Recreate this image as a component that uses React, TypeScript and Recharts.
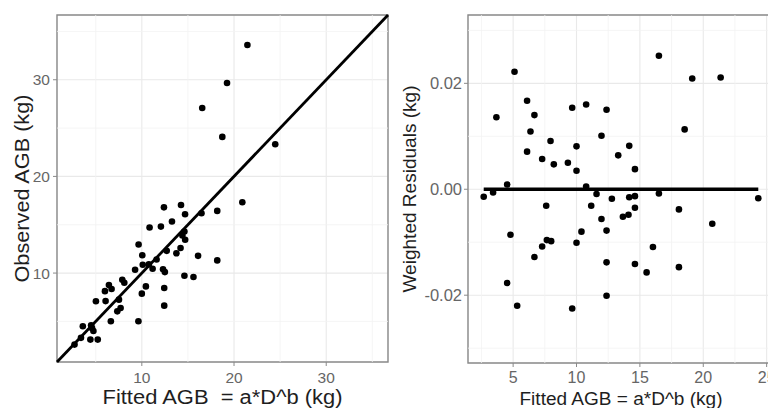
import React from 'react';
import {
  ScatterChart,
  Scatter,
  XAxis,
  YAxis,
  CartesianGrid,
  ReferenceLine,
  ReferenceArea,
} from 'recharts';

// Left panel: fitted vs observed AGB (kg)
const fittedAGB = [
  2.7, 3.4, 3.6, 4.5, 4.6, 4.75, 4.42, 5.22, 5.02, 6.07, 6.0, 6.43, 6.72, 6.64, 7.52, 7.34, 7.7, 7.88, 8.1,
  9.27, 9.65, 9.63, 10.05, 10.1, 10.44, 10.0, 10.76, 10.84, 11.17, 11.6, 12.07, 12.3, 12.5, 12.4, 12.43,
  12.43, 12.7, 13.27, 13.75, 14.2, 14.25, 14.4, 14.62, 14.7, 14.69, 14.62, 15.6, 16.1, 16.47, 16.55, 18.18,
  18.18, 18.73, 19.24, 20.9, 21.45, 24.47,
];
const observedAGB = [
  2.6, 3.3, 4.5, 4.6, 4.3, 4.0, 3.12, 3.12, 7.08, 7.1, 8.13, 8.76, 8.35, 5.01, 7.25, 6.04, 6.39, 9.31, 9.0,
  10.34, 12.95, 5.01, 11.85, 10.86, 8.62, 7.87, 10.9, 14.71, 10.45, 11.4, 14.81, 10.4, 10.1, 16.8, 8.45,
  6.63, 12.3, 15.33, 12.05, 12.6, 17.04, 13.9, 14.3, 13.45, 16.08, 9.72, 9.59, 11.78, 16.19, 27.08, 16.43,
  11.31, 24.09, 29.66, 17.32, 33.6, 23.33,
];

// Right panel: fitted AGB vs weighted residuals
const residFitted = [
  2.68, 3.42, 3.68, 4.53, 4.79, 4.53, 5.11, 5.32, 6.1, 6.1, 6.37, 6.68, 6.68, 7.29, 7.29, 7.61, 7.66, 8.0,
  7.95, 8.21, 9.32, 9.66, 9.66, 10.0, 10.0, 10.0, 10.39, 10.76, 10.76, 11.16, 11.58, 11.97, 11.97, 12.37,
  12.37, 12.37, 12.37, 12.79, 13.29, 13.66, 14.1, 14.16, 14.16, 14.61, 14.61, 14.61, 14.61, 15.53, 16.03,
  16.5, 16.5, 18.08, 18.08, 18.53, 19.13, 20.71, 21.37, 24.34,
];
const weightedResiduals = [
  -0.0014, -0.0006, 0.0136, 0.0009, -0.0086, -0.0177, 0.0222, -0.022, 0.0167, 0.0071, 0.0109, 0.014,
  -0.0128, 0.0057, -0.0108, -0.0031, -0.0096, -0.0098, 0.0091, 0.0047, 0.005, 0.0154, -0.0225, 0.0081,
  0.0035, -0.0101, -0.008, 0.016, 0.0005, -0.0031, -0.0009, 0.0101, -0.0056, 0.015, -0.0078, -0.0138,
  -0.0201, -0.0018, 0.0064, -0.0052, -0.0048, 0.0082, -0.0015, 0.0038, -0.0013, -0.0035, -0.0141, -0.0157,
  -0.0109, 0.0252, -0.0008, -0.0038, -0.0147, 0.0113, 0.0209, -0.0065, 0.0211, -0.0017,
];

const leftDomain = [0.8, 36.7];
const leftTicks = [10, 20, 30];
const leftMinor = [5, 15, 25, 35];

const rightXDomain = [1.44, 25.58];
const rightYDomain = [-0.0328, 0.0329];
const rightXTicks = [5, 10, 15, 20, 25];
const rightXMinor = [2.5, 7.5, 12.5, 17.5, 22.5];
const rightYTicks = [-0.02, 0, 0.02];
const rightYMinor = [-0.03, -0.01, 0.01, 0.03];
const smoothLine = [
  { x: 2.68, y: 0 },
  { x: 24.34, y: 0 },
];

const leftData = fittedAGB.map((x, i) => ({ x, y: observedAGB[i] }));
const rightData = residFitted.map((x, i) => ({ x, y: weightedResiduals[i] }));

const GRID = '#e9e9e9';
const MINOR = '#f3f3f3';
const BORDER = '#8a8a8a';
const TICK_TEXT = '#666666';
const TITLE = '#1e1e1e';

const Dot = (props: any) => <circle cx={props.cx} cy={props.cy} r={3.3} fill="#000" />;

const XTitle = ({ viewBox, text, size, len, baseline }: any) => {
  const cx = viewBox.x + viewBox.width / 2;
  return (
    <text
      x={cx}
      y={baseline}
      textAnchor="middle"
      fontSize={size}
      fill={TITLE}
      textLength={len}
      lengthAdjust="spacingAndGlyphs"
      style={{ whiteSpace: 'pre' }}
    >
      {text}
    </text>
  );
};

const YTitle = ({ viewBox, text, size, len, cx }: any) => {
  const cy = viewBox.y + viewBox.height / 2;
  return (
    <text
      x={cx}
      y={cy}
      transform={`rotate(-90, ${cx}, ${cy})`}
      textAnchor="middle"
      dominantBaseline="central"
      fontSize={size}
      fill={TITLE}
      textLength={len}
      lengthAdjust="spacingAndGlyphs"
    >
      {text}
    </text>
  );
};

const font = 'Liberation Sans, Arial, sans-serif';

export default function App() {
  return (
    <div
      style={{
        position: 'absolute',
        left: 0,
        top: 0,
        width: 768,
        height: 408,
        overflow: 'hidden',
        background: '#fff',
        fontFamily: font,
      }}
    >
      <div style={{ position: 'absolute', left: 0, top: 0 }}>
        <ScatterChart width={390} height={408} margin={{ top: 15, right: 2, bottom: 0, left: 0 }}>
          <CartesianGrid stroke={GRID} strokeWidth={1.1} />
          {leftMinor.map((v) => (
            <ReferenceLine key={'lx' + v} x={v} stroke={MINOR} strokeWidth={0.8} />
          ))}
          {leftMinor.map((v) => (
            <ReferenceLine key={'ly' + v} y={v} stroke={MINOR} strokeWidth={0.8} />
          ))}
          <XAxis
            type="number"
            dataKey="x"
            domain={leftDomain}
            ticks={leftTicks}
            allowDataOverflow
            height={46}
            axisLine={false}
            tickSize={4}
            tickMargin={6}
            tickLine={{ stroke: BORDER }}
            tick={{ fill: TICK_TEXT, fontSize: 15.5, fontFamily: font }}
            label={<XTitle text="Fitted AGB  = a*D^b (kg)" size={19.5} len={240} baseline={404} />}
          />
          <YAxis
            type="number"
            dataKey="y"
            domain={leftDomain}
            ticks={leftTicks}
            allowDataOverflow
            width={57}
            axisLine={false}
            tickSize={4}
            tickMargin={3}
            tickLine={{ stroke: BORDER }}
            tick={{ fill: TICK_TEXT, fontSize: 15.5, fontFamily: font }}
            label={<YTitle text="Observed AGB (kg)" size={19.5} len={188} cx={22} />}
          />
          <ReferenceArea
            x1={leftDomain[0]}
            x2={leftDomain[1]}
            y1={leftDomain[0]}
            y2={leftDomain[1]}
            fill="none"
            stroke={BORDER}
            strokeWidth={1.4}
            fillOpacity={0}
          />
          <Scatter data={leftData} shape={<Dot />} isAnimationActive={false} />
          <ReferenceLine
            segment={[
              { x: leftDomain[0], y: leftDomain[0] },
              { x: leftDomain[1], y: leftDomain[1] },
            ]}
            stroke="#000"
            strokeWidth={2.8}
          />
        </ScatterChart>
      </div>
      <div style={{ position: 'absolute', left: 390, top: 0 }}>
        <ScatterChart width={400} height={408} margin={{ top: 15, right: 16, bottom: 0, left: 0 }}>
          <CartesianGrid stroke={GRID} strokeWidth={1.1} />
          {rightXMinor.map((v) => (
            <ReferenceLine key={'rx' + v} x={v} stroke={MINOR} strokeWidth={0.8} />
          ))}
          {rightYMinor.map((v) => (
            <ReferenceLine key={'ry' + v} y={v} stroke={MINOR} strokeWidth={0.8} />
          ))}
          <XAxis
            type="number"
            dataKey="x"
            domain={rightXDomain}
            ticks={rightXTicks}
            allowDataOverflow
            height={45}
            axisLine={false}
            tickSize={4}
            tickMargin={5}
            tickLine={{ stroke: BORDER }}
            tick={{ fill: TICK_TEXT, fontSize: 16, fontFamily: font }}
            label={<XTitle text="Fitted AGB = a*D^b (kg)" size={17.5} len={203} baseline={405} />}
          />
          <YAxis
            type="number"
            dataKey="y"
            domain={rightYDomain}
            ticks={rightYTicks}
            allowDataOverflow
            width={78}
            axisLine={false}
            tickSize={4}
            tickMargin={2}
            tickLine={{ stroke: BORDER }}
            tickFormatter={(v: number) => v.toFixed(2)}
            tick={{ fill: TICK_TEXT, fontSize: 16.5, fontFamily: font }}
            label={<YTitle text="Weighted Residuals (kg)" size={17.5} len={207} cx={20} />}
          />
          <ReferenceArea
            x1={rightXDomain[0]}
            x2={rightXDomain[1]}
            y1={rightYDomain[0]}
            y2={rightYDomain[1]}
            fill="none"
            stroke={BORDER}
            strokeWidth={1.4}
            fillOpacity={0}
          />
          <Scatter data={rightData} shape={<Dot />} isAnimationActive={false} />
          <ReferenceLine segment={smoothLine} stroke="#000" strokeWidth={3.5} />
        </ScatterChart>
      </div>
    </div>
  );
}
